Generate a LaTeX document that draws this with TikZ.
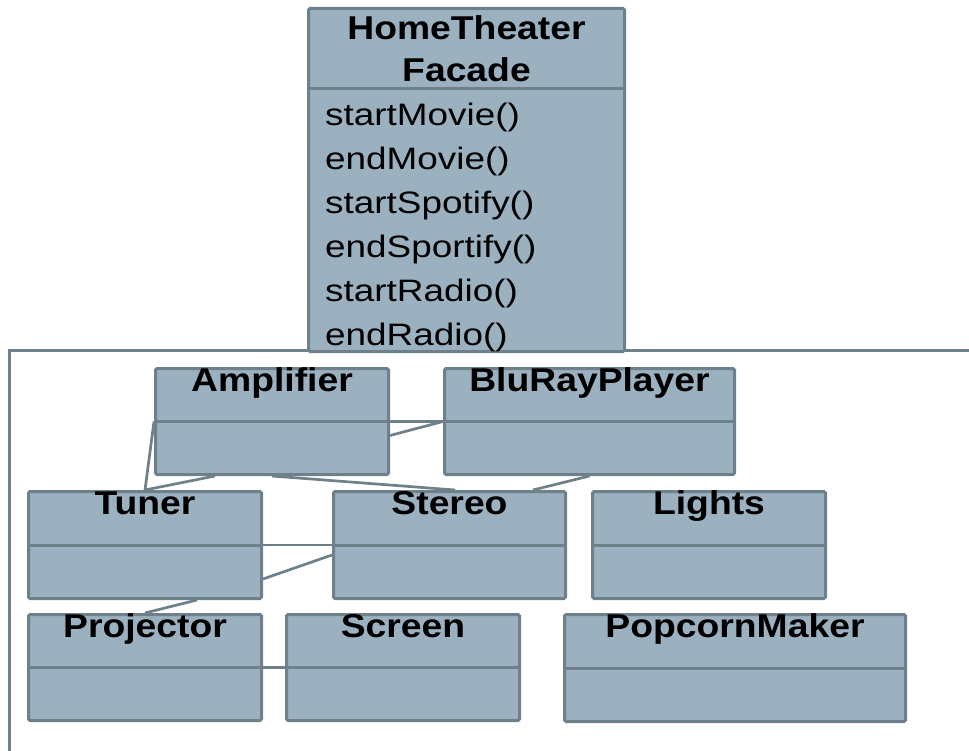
\documentclass[tikz,border=0pt]{standalone}
\usepackage{fontspec}
\setmainfont{Liberation Sans}
\newfontfamily\methfont[FakeStretch=1.19]{Liberation Sans}
\newfontfamily\ttlfont[FakeStretch=1.13]{Liberation Sans}
\usetikzlibrary{calc}
\definecolor{boxfill}{RGB}{155,177,192}
\definecolor{boxline}{RGB}{110,128,138}
\newcommand\umlclass[6]{%
  \node[classbox, minimum width=#4pt, minimum height=#5pt] (#1) at (#2,#3) {};
  \draw[wire] (#1.west) -- (#1.east);
  \node[ttl] (#1-title) at ($(#1.north)+(0,24)$) {#6};
}
\begin{document}
\begin{tikzpicture}[x=1pt,y=-1pt,
  classbox/.style={draw=boxline, fill=boxfill, line width=3pt, rounded corners=1.5pt, anchor=north west, inner sep=0pt},
  wire/.style={draw=boxline, line width=3pt},
  conn/.style={draw=boxline, line width=2.7pt},
  ttl/.style={font=\ttlfont\fontsize{33}{38}\selectfont\bfseries, anchor=base, inner sep=0pt},
  meth/.style={font=\methfont\fontsize{31}{36}\selectfont, anchor=base west, inner sep=0pt}]
\useasboundingbox (0,0) rectangle (969,751);

% frame
\coordinate (fbl) at (9,751);
\coordinate (ftl) at (9,350);
\coordinate (ftr) at (969,350);
\draw[wire] (fbl) -- (ftl) -- (ftr);

% facade
\node[classbox, minimum width=316pt, minimum height=343pt] (facade) at (307,7) {};
\draw[wire] ($(facade.north west)+(0,82)$) -- ($(facade.north east)+(0,82)$);
\node[ttl] (ft1) at ($(facade.north)+(0,33)$) {HomeTheater};
\node[ttl] (ft2) at ($(facade.north)+(0,75)$) {Facade};
\node[meth] (m1) at (325,126) {startMovie()};
\node[meth] (m2) at (325,170) {endMovie()};
\node[meth] (m3) at (325,214) {startSpotify()};
\node[meth] (m4) at (325,257.5) {endSportify()};
\node[meth] (m5) at (325,301.5) {startRadio()};
\node[meth] (m6) at (325,345) {endRadio()};

% classes
\umlclass{amp}{154}{367}{233}{106}{Amplifier}
\umlclass{blu}{443}{367}{290}{106}{BluRayPlayer}
\umlclass{tuner}{27}{490}{233}{107}{Tuner}
\umlclass{stereo}{332}{490}{232}{107}{Stereo}
\umlclass{lights}{591}{490}{233}{107}{Lights}
\umlclass{proj}{27}{613}{233}{106}{Projector}
\umlclass{screen}{285}{613}{233}{106}{Screen}
\umlclass{pop}{563}{613}{341}{107}{PopcornMaker}

% connectors
\draw[conn] (amp.east) -- (blu.west);
\draw[conn] ($(amp.east)+(0,14)$) -- (blu.west);
\draw[conn] (amp.west) -- (tuner.north);
\draw[conn] ($(amp.south west)+(61,0)$) -- (tuner.north);
\draw[conn] (amp.south) -- ($(stereo.north west)+(123,0)$);
\draw[conn] (blu.south) -- ($(stereo.north west)+(201,0)$);
\draw[conn] (tuner.east) -- (stereo.west);
\draw[conn] ($(tuner.east)+(0,34)$) -- ($(stereo.west)+(0,10)$);
\draw[conn] ($(tuner.south west)+(170,0)$) -- (proj.north);
\draw[conn] (proj.east) -- (screen.west);
\end{tikzpicture}
\end{document}
